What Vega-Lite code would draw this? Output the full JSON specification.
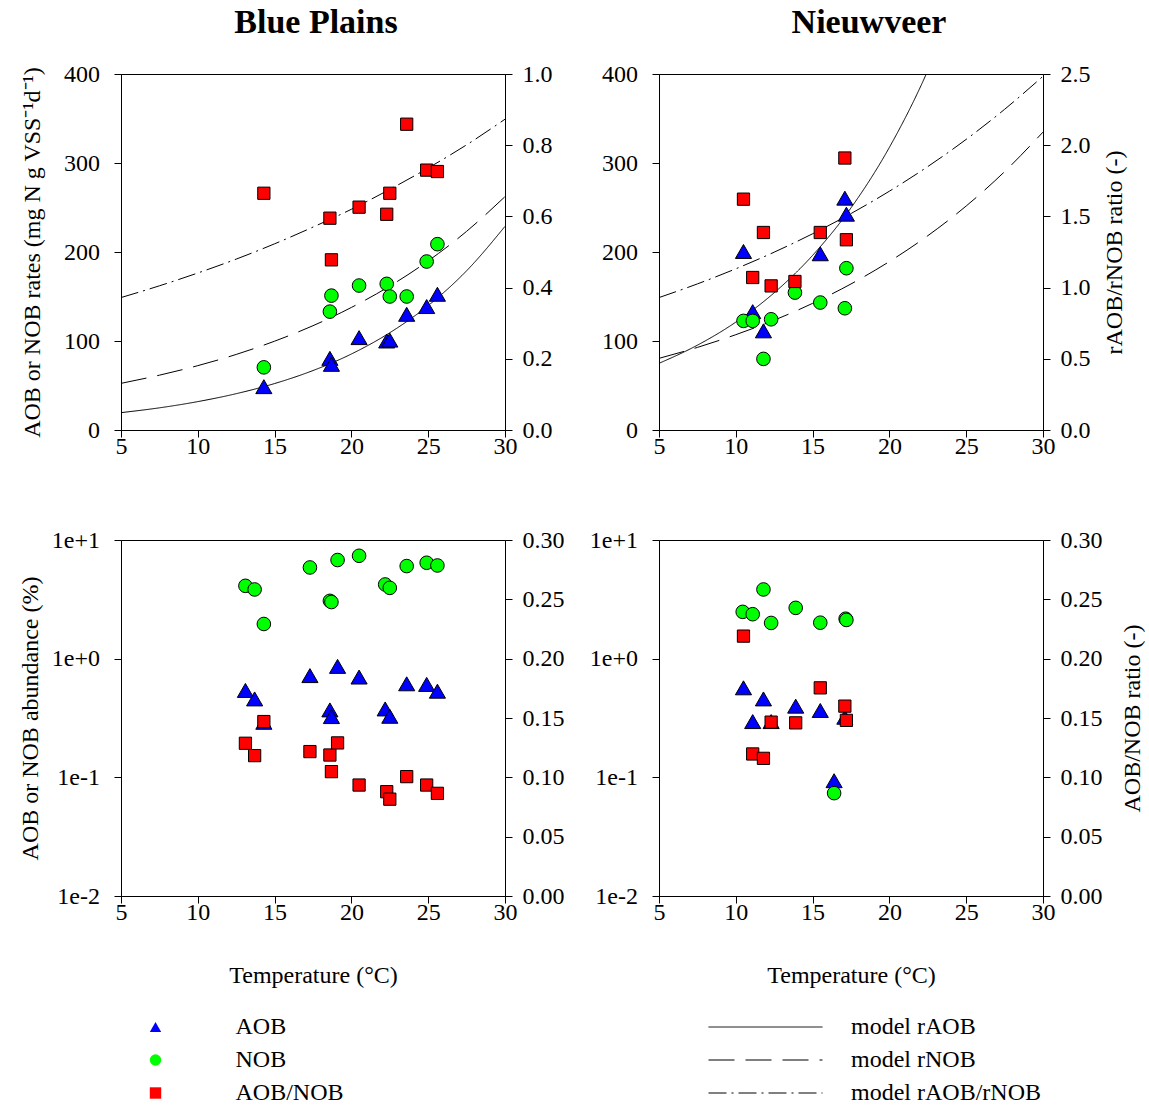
{
  "$schema": "https://vega.github.io/schema/vega-lite/v6.json",
  "background": "white",
  "padding": {"left": 18, "top": 5, "right": 0, "bottom": 0},
  "config": {
    "font": "Liberation Serif",
    "view": {"stroke": "black", "strokeWidth": 1},
    "axis": {
      "domainColor": "black", "tickColor": "black", "labelColor": "black", "titleColor": "black",
      "labelFont": "Liberation Serif", "titleFont": "Liberation Serif", "labelFlush": false,
      "labelFontSize": 24, "titleFontSize": 24, "titleFontWeight": "normal",
      "tickSize": 7, "grid": false, "domainWidth": 1, "tickWidth": 1
    },
    "legend": {
      "labelFont": "Liberation Serif", "labelFontSize": 24, "labelColor": "black", "labelLimit": 400,
      "padding": 0, "rowPadding": 9, "symbolStrokeColor": "black", "symbolStrokeWidth": 1
    },
    "title": {"font": "Liberation Serif", "fontSize": 34, "fontWeight": "bold", "color": "black", "anchor": "middle", "baseline": "alphabetic", "offset": 22}
  },
  "datasets": {
    "pts": [
      {"p": "BP1", "T": 14.3, "v": 48.7, "s": "AOB"},
      {"p": "BP1", "T": 18.6, "v": 80.5, "s": "AOB"},
      {"p": "BP1", "T": 18.7, "v": 73.8, "s": "AOB"},
      {"p": "BP1", "T": 20.5, "v": 103.8, "s": "AOB"},
      {"p": "BP1", "T": 22.3, "v": 100, "s": "AOB"},
      {"p": "BP1", "T": 22.5, "v": 101, "s": "AOB"},
      {"p": "BP1", "T": 23.6, "v": 130, "s": "AOB"},
      {"p": "BP1", "T": 24.9, "v": 138.7, "s": "AOB"},
      {"p": "BP1", "T": 25.6, "v": 152.5, "s": "AOB"},
      {"p": "BP1", "T": 14.3, "v": 70.4, "s": "NOB"},
      {"p": "BP1", "T": 18.6, "v": 133, "s": "NOB"},
      {"p": "BP1", "T": 18.7, "v": 151, "s": "NOB"},
      {"p": "BP1", "T": 20.5, "v": 162.3, "s": "NOB"},
      {"p": "BP1", "T": 22.3, "v": 164.2, "s": "NOB"},
      {"p": "BP1", "T": 22.5, "v": 150, "s": "NOB"},
      {"p": "BP1", "T": 23.6, "v": 150, "s": "NOB"},
      {"p": "BP1", "T": 24.9, "v": 189.3, "s": "NOB"},
      {"p": "BP1", "T": 25.6, "v": 208.8, "s": "NOB"},
      {"p": "BP1", "T": 14.3, "v": 0.665, "s": "AOB/NOB"},
      {"p": "BP1", "T": 18.6, "v": 0.595, "s": "AOB/NOB"},
      {"p": "BP1", "T": 18.7, "v": 0.478, "s": "AOB/NOB"},
      {"p": "BP1", "T": 20.5, "v": 0.626, "s": "AOB/NOB"},
      {"p": "BP1", "T": 22.3, "v": 0.606, "s": "AOB/NOB"},
      {"p": "BP1", "T": 22.5, "v": 0.665, "s": "AOB/NOB"},
      {"p": "BP1", "T": 23.6, "v": 0.859, "s": "AOB/NOB"},
      {"p": "BP1", "T": 24.9, "v": 0.730, "s": "AOB/NOB"},
      {"p": "BP1", "T": 25.6, "v": 0.726, "s": "AOB/NOB"},
      {"p": "NW1", "T": 10.5, "v": 200.6, "s": "AOB"},
      {"p": "NW1", "T": 11.1, "v": 133, "s": "AOB"},
      {"p": "NW1", "T": 11.8, "v": 111.4, "s": "AOB"},
      {"p": "NW1", "T": 15.5, "v": 198, "s": "AOB"},
      {"p": "NW1", "T": 17.1, "v": 260.5, "s": "AOB"},
      {"p": "NW1", "T": 17.2, "v": 242.5, "s": "AOB"},
      {"p": "NW1", "T": 10.5, "v": 122.6, "s": "NOB"},
      {"p": "NW1", "T": 11.1, "v": 122.6, "s": "NOB"},
      {"p": "NW1", "T": 11.8, "v": 79.9, "s": "NOB"},
      {"p": "NW1", "T": 12.3, "v": 124.4, "s": "NOB"},
      {"p": "NW1", "T": 13.85, "v": 154.4, "s": "NOB"},
      {"p": "NW1", "T": 15.5, "v": 143.2, "s": "NOB"},
      {"p": "NW1", "T": 17.1, "v": 136.8, "s": "NOB"},
      {"p": "NW1", "T": 17.2, "v": 181.8, "s": "NOB"},
      {"p": "NW1", "T": 10.5, "v": 1.621, "s": "AOB/NOB"},
      {"p": "NW1", "T": 11.8, "v": 1.387, "s": "AOB/NOB"},
      {"p": "NW1", "T": 11.1, "v": 1.071, "s": "AOB/NOB"},
      {"p": "NW1", "T": 12.3, "v": 1.012, "s": "AOB/NOB"},
      {"p": "NW1", "T": 13.85, "v": 1.043, "s": "AOB/NOB"},
      {"p": "NW1", "T": 15.5, "v": 1.387, "s": "AOB/NOB"},
      {"p": "NW1", "T": 17.1, "v": 1.910, "s": "AOB/NOB"},
      {"p": "NW1", "T": 17.2, "v": 1.336, "s": "AOB/NOB"},
      {"p": "BP2", "T": 13.1, "v": 0.54, "s": "AOB"},
      {"p": "BP2", "T": 13.7, "v": 0.458, "s": "AOB"},
      {"p": "BP2", "T": 14.3, "v": 0.291, "s": "AOB"},
      {"p": "BP2", "T": 17.3, "v": 0.72, "s": "AOB"},
      {"p": "BP2", "T": 19.1, "v": 0.861, "s": "AOB"},
      {"p": "BP2", "T": 18.6, "v": 0.37, "s": "AOB"},
      {"p": "BP2", "T": 18.7, "v": 0.325, "s": "AOB"},
      {"p": "BP2", "T": 20.5, "v": 0.70, "s": "AOB"},
      {"p": "BP2", "T": 22.2, "v": 0.377, "s": "AOB"},
      {"p": "BP2", "T": 22.5, "v": 0.327, "s": "AOB"},
      {"p": "BP2", "T": 23.6, "v": 0.614, "s": "AOB"},
      {"p": "BP2", "T": 24.9, "v": 0.607, "s": "AOB"},
      {"p": "BP2", "T": 25.6, "v": 0.532, "s": "AOB"},
      {"p": "BP2", "T": 13.1, "v": 4.11, "s": "NOB"},
      {"p": "BP2", "T": 13.7, "v": 3.83, "s": "NOB"},
      {"p": "BP2", "T": 14.3, "v": 1.96, "s": "NOB"},
      {"p": "BP2", "T": 17.3, "v": 5.87, "s": "NOB"},
      {"p": "BP2", "T": 19.1, "v": 6.78, "s": "NOB"},
      {"p": "BP2", "T": 18.6, "v": 3.07, "s": "NOB"},
      {"p": "BP2", "T": 18.7, "v": 3.0, "s": "NOB"},
      {"p": "BP2", "T": 20.5, "v": 7.36, "s": "NOB"},
      {"p": "BP2", "T": 22.2, "v": 4.22, "s": "NOB"},
      {"p": "BP2", "T": 22.5, "v": 3.95, "s": "NOB"},
      {"p": "BP2", "T": 23.6, "v": 6.03, "s": "NOB"},
      {"p": "BP2", "T": 24.9, "v": 6.43, "s": "NOB"},
      {"p": "BP2", "T": 25.6, "v": 6.10, "s": "NOB"},
      {"p": "BP2", "T": 13.1, "v": 0.1287, "s": "AOB/NOB"},
      {"p": "BP2", "T": 13.7, "v": 0.1183, "s": "AOB/NOB"},
      {"p": "BP2", "T": 14.3, "v": 0.147, "s": "AOB/NOB"},
      {"p": "BP2", "T": 17.3, "v": 0.1217, "s": "AOB/NOB"},
      {"p": "BP2", "T": 18.6, "v": 0.1188, "s": "AOB/NOB"},
      {"p": "BP2", "T": 19.1, "v": 0.129, "s": "AOB/NOB"},
      {"p": "BP2", "T": 18.7, "v": 0.1048, "s": "AOB/NOB"},
      {"p": "BP2", "T": 20.5, "v": 0.0935, "s": "AOB/NOB"},
      {"p": "BP2", "T": 22.3, "v": 0.0879, "s": "AOB/NOB"},
      {"p": "BP2", "T": 22.5, "v": 0.0816, "s": "AOB/NOB"},
      {"p": "BP2", "T": 23.6, "v": 0.1006, "s": "AOB/NOB"},
      {"p": "BP2", "T": 24.9, "v": 0.0935, "s": "AOB/NOB"},
      {"p": "BP2", "T": 25.6, "v": 0.0865, "s": "AOB/NOB"},
      {"p": "NW2", "T": 10.5, "v": 0.568, "s": "AOB"},
      {"p": "NW2", "T": 11.8, "v": 0.458, "s": "AOB"},
      {"p": "NW2", "T": 11.1, "v": 0.295, "s": "AOB"},
      {"p": "NW2", "T": 12.3, "v": 0.295, "s": "AOB"},
      {"p": "NW2", "T": 13.9, "v": 0.398, "s": "AOB"},
      {"p": "NW2", "T": 15.5, "v": 0.366, "s": "AOB"},
      {"p": "NW2", "T": 16.4, "v": 0.0937, "s": "AOB"},
      {"p": "NW2", "T": 17.1, "v": 0.321, "s": "AOB"},
      {"p": "NW2", "T": 10.45, "v": 2.48, "s": "NOB"},
      {"p": "NW2", "T": 11.1, "v": 2.37, "s": "NOB"},
      {"p": "NW2", "T": 11.8, "v": 3.83, "s": "NOB"},
      {"p": "NW2", "T": 12.3, "v": 2.0, "s": "NOB"},
      {"p": "NW2", "T": 13.9, "v": 2.68, "s": "NOB"},
      {"p": "NW2", "T": 15.5, "v": 2.01, "s": "NOB"},
      {"p": "NW2", "T": 17.15, "v": 2.17, "s": "NOB"},
      {"p": "NW2", "T": 17.2, "v": 2.12, "s": "NOB"},
      {"p": "NW2", "T": 16.4, "v": 0.0736, "s": "NOB"},
      {"p": "NW2", "T": 10.5, "v": 0.219, "s": "AOB/NOB"},
      {"p": "NW2", "T": 11.1, "v": 0.1197, "s": "AOB/NOB"},
      {"p": "NW2", "T": 11.8, "v": 0.116, "s": "AOB/NOB"},
      {"p": "NW2", "T": 12.3, "v": 0.1465, "s": "AOB/NOB"},
      {"p": "NW2", "T": 13.9, "v": 0.1459, "s": "AOB/NOB"},
      {"p": "NW2", "T": 15.5, "v": 0.1754, "s": "AOB/NOB"},
      {"p": "NW2", "T": 17.1, "v": 0.16, "s": "AOB/NOB"},
      {"p": "NW2", "T": 17.2, "v": 0.148, "s": "AOB/NOB"}
    ],
    "curves": [
      {"p": "BP1", "T": 5, "v": 19.5, "m": "model rAOB"},
      {"p": "BP1", "T": 7.5, "v": 24.9, "m": "model rAOB"},
      {"p": "BP1", "T": 10, "v": 31.9, "m": "model rAOB"},
      {"p": "BP1", "T": 12.5, "v": 40.8, "m": "model rAOB"},
      {"p": "BP1", "T": 15, "v": 52.2, "m": "model rAOB"},
      {"p": "BP1", "T": 17.5, "v": 66.8, "m": "model rAOB"},
      {"p": "BP1", "T": 20, "v": 85.4, "m": "model rAOB"},
      {"p": "BP1", "T": 22.5, "v": 109.3, "m": "model rAOB"},
      {"p": "BP1", "T": 25, "v": 139.8, "m": "model rAOB"},
      {"p": "BP1", "T": 27.5, "v": 178.9, "m": "model rAOB"},
      {"p": "BP1", "T": 30, "v": 228.8, "m": "model rAOB"},
      {"p": "BP1", "T": 5, "v": 52.4, "m": "model rNOB"},
      {"p": "BP1", "T": 7.5, "v": 61.6, "m": "model rNOB"},
      {"p": "BP1", "T": 10, "v": 72.3, "m": "model rNOB"},
      {"p": "BP1", "T": 12.5, "v": 84.9, "m": "model rNOB"},
      {"p": "BP1", "T": 15, "v": 99.8, "m": "model rNOB"},
      {"p": "BP1", "T": 17.5, "v": 117.2, "m": "model rNOB"},
      {"p": "BP1", "T": 20, "v": 137.7, "m": "model rNOB"},
      {"p": "BP1", "T": 22.5, "v": 161.7, "m": "model rNOB"},
      {"p": "BP1", "T": 25, "v": 190.0, "m": "model rNOB"},
      {"p": "BP1", "T": 27.5, "v": 223.2, "m": "model rNOB"},
      {"p": "BP1", "T": 30, "v": 262.2, "m": "model rNOB"},
      {"p": "BP1", "T": 5, "v": 0.372, "m": "model rAOB/rNOB"},
      {"p": "BP1", "T": 7.5, "v": 0.405, "m": "model rAOB/rNOB"},
      {"p": "BP1", "T": 10, "v": 0.441, "m": "model rAOB/rNOB"},
      {"p": "BP1", "T": 12.5, "v": 0.480, "m": "model rAOB/rNOB"},
      {"p": "BP1", "T": 15, "v": 0.523, "m": "model rAOB/rNOB"},
      {"p": "BP1", "T": 17.5, "v": 0.570, "m": "model rAOB/rNOB"},
      {"p": "BP1", "T": 20, "v": 0.620, "m": "model rAOB/rNOB"},
      {"p": "BP1", "T": 22.5, "v": 0.676, "m": "model rAOB/rNOB"},
      {"p": "BP1", "T": 25, "v": 0.736, "m": "model rAOB/rNOB"},
      {"p": "BP1", "T": 27.5, "v": 0.801, "m": "model rAOB/rNOB"},
      {"p": "BP1", "T": 30, "v": 0.873, "m": "model rAOB/rNOB"},
      {"p": "NW1", "T": 5, "v": 74.9, "m": "model rAOB"},
      {"p": "NW1", "T": 7.5, "v": 95.3, "m": "model rAOB"},
      {"p": "NW1", "T": 10, "v": 121.2, "m": "model rAOB"},
      {"p": "NW1", "T": 12.5, "v": 154.2, "m": "model rAOB"},
      {"p": "NW1", "T": 15, "v": 196.2, "m": "model rAOB"},
      {"p": "NW1", "T": 17.5, "v": 249.6, "m": "model rAOB"},
      {"p": "NW1", "T": 20, "v": 317.6, "m": "model rAOB"},
      {"p": "NW1", "T": 22.5, "v": 403.9, "m": "model rAOB"},
      {"p": "NW1", "T": 25, "v": 514, "m": "model rAOB"},
      {"p": "NW1", "T": 5, "v": 80.5, "m": "model rNOB"},
      {"p": "NW1", "T": 7.5, "v": 92.8, "m": "model rNOB"},
      {"p": "NW1", "T": 10, "v": 107.1, "m": "model rNOB"},
      {"p": "NW1", "T": 12.5, "v": 123.4, "m": "model rNOB"},
      {"p": "NW1", "T": 15, "v": 142.3, "m": "model rNOB"},
      {"p": "NW1", "T": 17.5, "v": 164.1, "m": "model rNOB"},
      {"p": "NW1", "T": 20, "v": 189.3, "m": "model rNOB"},
      {"p": "NW1", "T": 22.5, "v": 218.3, "m": "model rNOB"},
      {"p": "NW1", "T": 25, "v": 251.7, "m": "model rNOB"},
      {"p": "NW1", "T": 27.5, "v": 290.3, "m": "model rNOB"},
      {"p": "NW1", "T": 30, "v": 334.7, "m": "model rNOB"},
      {"p": "NW1", "T": 5, "v": 0.930, "m": "model rAOB/rNOB"},
      {"p": "NW1", "T": 7.5, "v": 1.026, "m": "model rAOB/rNOB"},
      {"p": "NW1", "T": 10, "v": 1.132, "m": "model rAOB/rNOB"},
      {"p": "NW1", "T": 12.5, "v": 1.249, "m": "model rAOB/rNOB"},
      {"p": "NW1", "T": 15, "v": 1.378, "m": "model rAOB/rNOB"},
      {"p": "NW1", "T": 17.5, "v": 1.520, "m": "model rAOB/rNOB"},
      {"p": "NW1", "T": 20, "v": 1.677, "m": "model rAOB/rNOB"},
      {"p": "NW1", "T": 22.5, "v": 1.850, "m": "model rAOB/rNOB"},
      {"p": "NW1", "T": 25, "v": 2.041, "m": "model rAOB/rNOB"},
      {"p": "NW1", "T": 27.5, "v": 2.252, "m": "model rAOB/rNOB"},
      {"p": "NW1", "T": 30, "v": 2.484, "m": "model rAOB/rNOB"}
    ]
  },
  "concat": [
    {
      "title": {"text": "Blue Plains", "dx": 3},
      "width": 384, "height": 356,
      "encoding": {"x": {"field": "T", "type": "quantitative", "scale": {"domain": [5, 30], "nice": false}, "axis": {"values": [5, 10, 15, 20, 25, 30], "title": null, "labelPadding": -3}}},
      "layer": [
        {
          "data": {"name": "curves"},
          "transform": [{"filter": "datum.p == 'BP1' && datum.m != 'model rAOB/rNOB'"}],
          "mark": {"type": "line", "clip": true, "interpolate": "monotone", "color": "black", "strokeWidth": 1},
          "encoding": {
            "y": {"field": "v", "type": "quantitative", "scale": {"domain": [0, 400], "nice": false}, "axis": {"values": [0, 100, 200, 300, 400], "title": "AOB or NOB rates (mg N g VSS⁻¹d⁻¹)", "labelPadding": 14.5, "titlePadding": 19.5}},
            "strokeDash": {"field": "m", "type": "nominal", "scale": {"domain": ["model rAOB", "model rNOB", "model rAOB/rNOB"], "range": [[1, 0], [26, 11], [18, 5, 2, 5]]}, "legend": {"orient": "none", "legendX": 587, "legendY": 941, "title": null, "symbolSize": 12996, "labelOffset": 28, "clipHeight": 24, "labelLimit": 400, "symbolType": "stroke", "symbolStrokeWidth": 1, "symbolStrokeColor": "black"}}
          }
        },
        {
          "data": {"name": "curves"},
          "transform": [{"filter": "datum.p == 'BP1' && datum.m == 'model rAOB/rNOB'"}],
          "mark": {"type": "line", "clip": true, "interpolate": "monotone", "color": "black", "strokeWidth": 1},
          "encoding": {
            "y": {"field": "v", "type": "quantitative", "scale": {"domain": [0, 1], "nice": false}, "axis": {"orient": "right", "values": [0, 0.2, 0.4, 0.6, 0.8, 1.0], "format": ".1f", "title": null, "labelPadding": 10}},
            "strokeDash": {"field": "m", "type": "nominal", "scale": {"domain": ["model rAOB", "model rNOB", "model rAOB/rNOB"], "range": [[1, 0], [26, 11], [18, 5, 2, 5]]}, "legend": {"orient": "none", "legendX": 587, "legendY": 941, "title": null, "symbolSize": 12996, "labelOffset": 28, "clipHeight": 24, "labelLimit": 400, "symbolType": "stroke", "symbolStrokeWidth": 1, "symbolStrokeColor": "black"}}
          }
        },
        {
          "data": {"name": "pts"},
          "transform": [{"filter": "datum.p == 'BP1' && datum.s == 'AOB'"}],
          "mark": {"type": "point", "filled": true, "size": 260, "stroke": "black", "strokeWidth": 1, "opacity": 1},
          "encoding": {
            "y": {"field": "v", "type": "quantitative", "scale": {"domain": [0, 400], "nice": false}, "axis": null},
            "shape": {"field": "s", "type": "nominal", "scale": {"domain": ["AOB", "NOB", "AOB/NOB"], "range": ["triangle-up", "circle", "square"]}, "legend": {"orient": "none", "legendX": 22.5, "legendY": 941, "title": null, "symbolSize": 130, "labelOffset": 68}},
            "fill": {"field": "s", "type": "nominal", "scale": {"domain": ["AOB", "NOB", "AOB/NOB"], "range": ["#0000FF", "#00FF00", "#FF0000"]}, "legend": {"orient": "none", "legendX": 22.5, "legendY": 941, "title": null, "symbolSize": 130, "labelOffset": 68}}
          }
        },
        {
          "data": {"name": "pts"},
          "transform": [{"filter": "datum.p == 'BP1' && datum.s == 'NOB'"}],
          "mark": {"type": "point", "filled": true, "size": 185, "stroke": "black", "strokeWidth": 1, "opacity": 1},
          "encoding": {
            "y": {"field": "v", "type": "quantitative", "scale": {"domain": [0, 400], "nice": false}, "axis": null},
            "shape": {"field": "s", "type": "nominal", "scale": {"domain": ["AOB", "NOB", "AOB/NOB"], "range": ["triangle-up", "circle", "square"]}, "legend": {"orient": "none", "legendX": 22.5, "legendY": 941, "title": null, "symbolSize": 130, "labelOffset": 68}},
            "fill": {"field": "s", "type": "nominal", "scale": {"domain": ["AOB", "NOB", "AOB/NOB"], "range": ["#0000FF", "#00FF00", "#FF0000"]}, "legend": {"orient": "none", "legendX": 22.5, "legendY": 941, "title": null, "symbolSize": 130, "labelOffset": 68}}
          }
        },
        {
          "data": {"name": "pts"},
          "transform": [{"filter": "datum.p == 'BP1' && datum.s == 'AOB/NOB'"}],
          "mark": {"type": "point", "filled": true, "size": 150, "stroke": "black", "strokeWidth": 1, "opacity": 1},
          "encoding": {
            "y": {"field": "v", "type": "quantitative", "scale": {"domain": [0, 1], "nice": false}, "axis": null},
            "shape": {"field": "s", "type": "nominal", "scale": {"domain": ["AOB", "NOB", "AOB/NOB"], "range": ["triangle-up", "circle", "square"]}, "legend": {"orient": "none", "legendX": 22.5, "legendY": 941, "title": null, "symbolSize": 130, "labelOffset": 68}},
            "fill": {"field": "s", "type": "nominal", "scale": {"domain": ["AOB", "NOB", "AOB/NOB"], "range": ["#0000FF", "#00FF00", "#FF0000"]}, "legend": {"orient": "none", "legendX": 22.5, "legendY": 941, "title": null, "symbolSize": 130, "labelOffset": 68}}
          }
        }
      ],
      "resolve": {"scale": {"y": "independent"}}
    },
    {
      "title": {"text": "Nieuwveer", "dx": 18},
      "width": 384, "height": 356,
      "encoding": {"x": {"field": "T", "type": "quantitative", "scale": {"domain": [5, 30], "nice": false}, "axis": {"values": [5, 10, 15, 20, 25, 30], "title": null, "labelPadding": -3}}},
      "layer": [
        {
          "data": {"name": "curves"},
          "transform": [{"filter": "datum.p == 'NW1' && datum.m != 'model rAOB/rNOB'"}],
          "mark": {"type": "line", "clip": true, "interpolate": "monotone", "color": "black", "strokeWidth": 1},
          "encoding": {
            "y": {"field": "v", "type": "quantitative", "scale": {"domain": [0, 400], "nice": false}, "axis": {"values": [0, 100, 200, 300, 400], "title": null, "labelPadding": 14.5}},
            "strokeDash": {"field": "m", "type": "nominal", "scale": {"domain": ["model rAOB", "model rNOB", "model rAOB/rNOB"], "range": [[1, 0], [26, 11], [18, 5, 2, 5]]}, "legend": {"orient": "none", "legendX": 587, "legendY": 941, "title": null, "symbolSize": 12996, "labelOffset": 28, "clipHeight": 24, "labelLimit": 400, "symbolType": "stroke", "symbolStrokeWidth": 1, "symbolStrokeColor": "black"}}
          }
        },
        {
          "data": {"name": "curves"},
          "transform": [{"filter": "datum.p == 'NW1' && datum.m == 'model rAOB/rNOB'"}],
          "mark": {"type": "line", "clip": true, "interpolate": "monotone", "color": "black", "strokeWidth": 1},
          "encoding": {
            "y": {"field": "v", "type": "quantitative", "scale": {"domain": [0, 2.5], "nice": false}, "axis": {"orient": "right", "values": [0, 0.5, 1.0, 1.5, 2.0, 2.5], "format": ".1f", "title": "rAOB/rNOB ratio (-)", "titleAngle": 270, "titleBaseline": "top", "labelPadding": 10, "titlePadding": 12}},
            "strokeDash": {"field": "m", "type": "nominal", "scale": {"domain": ["model rAOB", "model rNOB", "model rAOB/rNOB"], "range": [[1, 0], [26, 11], [18, 5, 2, 5]]}, "legend": {"orient": "none", "legendX": 587, "legendY": 941, "title": null, "symbolSize": 12996, "labelOffset": 28, "clipHeight": 24, "labelLimit": 400, "symbolType": "stroke", "symbolStrokeWidth": 1, "symbolStrokeColor": "black"}}
          }
        },
        {
          "data": {"name": "pts"},
          "transform": [{"filter": "datum.p == 'NW1' && datum.s == 'AOB'"}],
          "mark": {"type": "point", "filled": true, "size": 260, "stroke": "black", "strokeWidth": 1, "opacity": 1},
          "encoding": {
            "y": {"field": "v", "type": "quantitative", "scale": {"domain": [0, 400], "nice": false}, "axis": null},
            "shape": {"field": "s", "type": "nominal", "scale": {"domain": ["AOB", "NOB", "AOB/NOB"], "range": ["triangle-up", "circle", "square"]}, "legend": {"orient": "none", "legendX": 22.5, "legendY": 941, "title": null, "symbolSize": 130, "labelOffset": 68}},
            "fill": {"field": "s", "type": "nominal", "scale": {"domain": ["AOB", "NOB", "AOB/NOB"], "range": ["#0000FF", "#00FF00", "#FF0000"]}, "legend": {"orient": "none", "legendX": 22.5, "legendY": 941, "title": null, "symbolSize": 130, "labelOffset": 68}}
          }
        },
        {
          "data": {"name": "pts"},
          "transform": [{"filter": "datum.p == 'NW1' && datum.s == 'NOB'"}],
          "mark": {"type": "point", "filled": true, "size": 185, "stroke": "black", "strokeWidth": 1, "opacity": 1},
          "encoding": {
            "y": {"field": "v", "type": "quantitative", "scale": {"domain": [0, 400], "nice": false}, "axis": null},
            "shape": {"field": "s", "type": "nominal", "scale": {"domain": ["AOB", "NOB", "AOB/NOB"], "range": ["triangle-up", "circle", "square"]}, "legend": {"orient": "none", "legendX": 22.5, "legendY": 941, "title": null, "symbolSize": 130, "labelOffset": 68}},
            "fill": {"field": "s", "type": "nominal", "scale": {"domain": ["AOB", "NOB", "AOB/NOB"], "range": ["#0000FF", "#00FF00", "#FF0000"]}, "legend": {"orient": "none", "legendX": 22.5, "legendY": 941, "title": null, "symbolSize": 130, "labelOffset": 68}}
          }
        },
        {
          "data": {"name": "pts"},
          "transform": [{"filter": "datum.p == 'NW1' && datum.s == 'AOB/NOB'"}],
          "mark": {"type": "point", "filled": true, "size": 150, "stroke": "black", "strokeWidth": 1, "opacity": 1},
          "encoding": {
            "y": {"field": "v", "type": "quantitative", "scale": {"domain": [0, 2.5], "nice": false}, "axis": null},
            "shape": {"field": "s", "type": "nominal", "scale": {"domain": ["AOB", "NOB", "AOB/NOB"], "range": ["triangle-up", "circle", "square"]}, "legend": {"orient": "none", "legendX": 22.5, "legendY": 941, "title": null, "symbolSize": 130, "labelOffset": 68}},
            "fill": {"field": "s", "type": "nominal", "scale": {"domain": ["AOB", "NOB", "AOB/NOB"], "range": ["#0000FF", "#00FF00", "#FF0000"]}, "legend": {"orient": "none", "legendX": 22.5, "legendY": 941, "title": null, "symbolSize": 130, "labelOffset": 68}}
          }
        }
      ],
      "resolve": {"scale": {"y": "independent"}}
    },
    {
      "width": 384, "height": 356,
      "encoding": {"x": {"field": "T", "type": "quantitative", "scale": {"domain": [5, 30], "nice": false}, "axis": {"values": [5, 10, 15, 20, 25, 30], "title": "Temperature (°C)", "labelPadding": -3, "titlePadding": 39.5}}},
      "layer": [
        {
          "data": {"name": "pts"},
          "transform": [{"filter": "datum.p == 'BP2' && datum.s == 'AOB'"}],
          "mark": {"type": "point", "filled": true, "size": 260, "stroke": "black", "strokeWidth": 1, "opacity": 1},
          "encoding": {
            "y": {"field": "v", "type": "quantitative", "scale": {"type": "log", "domain": [0.01, 10], "nice": false}, "axis": {"values": [0.01, 0.1, 1, 10], "labelExpr": "datum.value >= 5 ? '1e+1' : datum.value >= 0.5 ? '1e+0' : datum.value >= 0.05 ? '1e-1' : '1e-2'", "title": "AOB or NOB abundance (%)", "labelPadding": 14.5, "titlePadding": 8.5}},
            "shape": {"field": "s", "type": "nominal", "scale": {"domain": ["AOB", "NOB", "AOB/NOB"], "range": ["triangle-up", "circle", "square"]}, "legend": {"orient": "none", "legendX": 22.5, "legendY": 941, "title": null, "symbolSize": 130, "labelOffset": 68}},
            "fill": {"field": "s", "type": "nominal", "scale": {"domain": ["AOB", "NOB", "AOB/NOB"], "range": ["#0000FF", "#00FF00", "#FF0000"]}, "legend": {"orient": "none", "legendX": 22.5, "legendY": 941, "title": null, "symbolSize": 130, "labelOffset": 68}}
          }
        },
        {
          "data": {"name": "pts"},
          "transform": [{"filter": "datum.p == 'BP2' && datum.s == 'NOB'"}],
          "mark": {"type": "point", "filled": true, "size": 185, "stroke": "black", "strokeWidth": 1, "opacity": 1},
          "encoding": {
            "y": {"field": "v", "type": "quantitative", "scale": {"type": "log", "domain": [0.01, 10], "nice": false}, "axis": null},
            "shape": {"field": "s", "type": "nominal", "scale": {"domain": ["AOB", "NOB", "AOB/NOB"], "range": ["triangle-up", "circle", "square"]}, "legend": {"orient": "none", "legendX": 22.5, "legendY": 941, "title": null, "symbolSize": 130, "labelOffset": 68}},
            "fill": {"field": "s", "type": "nominal", "scale": {"domain": ["AOB", "NOB", "AOB/NOB"], "range": ["#0000FF", "#00FF00", "#FF0000"]}, "legend": {"orient": "none", "legendX": 22.5, "legendY": 941, "title": null, "symbolSize": 130, "labelOffset": 68}}
          }
        },
        {
          "data": {"name": "pts"},
          "transform": [{"filter": "datum.p == 'BP2' && datum.s == 'AOB/NOB'"}],
          "mark": {"type": "point", "filled": true, "size": 150, "stroke": "black", "strokeWidth": 1, "opacity": 1},
          "encoding": {
            "y": {"field": "v", "type": "quantitative", "scale": {"domain": [0, 0.3], "nice": false}, "axis": {"orient": "right", "values": [0, 0.05, 0.1, 0.15, 0.2, 0.25, 0.3], "format": ".2f", "title": null, "labelPadding": 10}},
            "shape": {"field": "s", "type": "nominal", "scale": {"domain": ["AOB", "NOB", "AOB/NOB"], "range": ["triangle-up", "circle", "square"]}, "legend": {"orient": "none", "legendX": 22.5, "legendY": 941, "title": null, "symbolSize": 130, "labelOffset": 68}},
            "fill": {"field": "s", "type": "nominal", "scale": {"domain": ["AOB", "NOB", "AOB/NOB"], "range": ["#0000FF", "#00FF00", "#FF0000"]}, "legend": {"orient": "none", "legendX": 22.5, "legendY": 941, "title": null, "symbolSize": 130, "labelOffset": 68}}
          }
        }
      ],
      "resolve": {"scale": {"y": "independent"}}
    },
    {
      "width": 384, "height": 356,
      "encoding": {"x": {"field": "T", "type": "quantitative", "scale": {"domain": [5, 30], "nice": false}, "axis": {"values": [5, 10, 15, 20, 25, 30], "title": "Temperature (°C)", "labelPadding": -3, "titlePadding": 39.5}}},
      "layer": [
        {
          "data": {"name": "pts"},
          "transform": [{"filter": "datum.p == 'NW2' && datum.s == 'AOB'"}],
          "mark": {"type": "point", "filled": true, "size": 260, "stroke": "black", "strokeWidth": 1, "opacity": 1},
          "encoding": {
            "y": {"field": "v", "type": "quantitative", "scale": {"type": "log", "domain": [0.01, 10], "nice": false}, "axis": {"values": [0.01, 0.1, 1, 10], "labelExpr": "datum.value >= 5 ? '1e+1' : datum.value >= 0.5 ? '1e+0' : datum.value >= 0.05 ? '1e-1' : '1e-2'", "title": null, "labelPadding": 14.5}},
            "shape": {"field": "s", "type": "nominal", "scale": {"domain": ["AOB", "NOB", "AOB/NOB"], "range": ["triangle-up", "circle", "square"]}, "legend": {"orient": "none", "legendX": 22.5, "legendY": 941, "title": null, "symbolSize": 130, "labelOffset": 68}},
            "fill": {"field": "s", "type": "nominal", "scale": {"domain": ["AOB", "NOB", "AOB/NOB"], "range": ["#0000FF", "#00FF00", "#FF0000"]}, "legend": {"orient": "none", "legendX": 22.5, "legendY": 941, "title": null, "symbolSize": 130, "labelOffset": 68}}
          }
        },
        {
          "data": {"name": "pts"},
          "transform": [{"filter": "datum.p == 'NW2' && datum.s == 'NOB'"}],
          "mark": {"type": "point", "filled": true, "size": 185, "stroke": "black", "strokeWidth": 1, "opacity": 1},
          "encoding": {
            "y": {"field": "v", "type": "quantitative", "scale": {"type": "log", "domain": [0.01, 10], "nice": false}, "axis": null},
            "shape": {"field": "s", "type": "nominal", "scale": {"domain": ["AOB", "NOB", "AOB/NOB"], "range": ["triangle-up", "circle", "square"]}, "legend": {"orient": "none", "legendX": 22.5, "legendY": 941, "title": null, "symbolSize": 130, "labelOffset": 68}},
            "fill": {"field": "s", "type": "nominal", "scale": {"domain": ["AOB", "NOB", "AOB/NOB"], "range": ["#0000FF", "#00FF00", "#FF0000"]}, "legend": {"orient": "none", "legendX": 22.5, "legendY": 941, "title": null, "symbolSize": 130, "labelOffset": 68}}
          }
        },
        {
          "data": {"name": "pts"},
          "transform": [{"filter": "datum.p == 'NW2' && datum.s == 'AOB/NOB'"}],
          "mark": {"type": "point", "filled": true, "size": 150, "stroke": "black", "strokeWidth": 1, "opacity": 1},
          "encoding": {
            "y": {"field": "v", "type": "quantitative", "scale": {"domain": [0, 0.3], "nice": false}, "axis": {"orient": "right", "values": [0, 0.05, 0.1, 0.15, 0.2, 0.25, 0.3], "format": ".2f", "title": "AOB/NOB ratio (-)", "titleAngle": 270, "titleBaseline": "top", "labelPadding": 10, "titlePadding": 18}},
            "shape": {"field": "s", "type": "nominal", "scale": {"domain": ["AOB", "NOB", "AOB/NOB"], "range": ["triangle-up", "circle", "square"]}, "legend": {"orient": "none", "legendX": 22.5, "legendY": 941, "title": null, "symbolSize": 130, "labelOffset": 68}},
            "fill": {"field": "s", "type": "nominal", "scale": {"domain": ["AOB", "NOB", "AOB/NOB"], "range": ["#0000FF", "#00FF00", "#FF0000"]}, "legend": {"orient": "none", "legendX": 22.5, "legendY": 941, "title": null, "symbolSize": 130, "labelOffset": 68}}
          }
        }
      ],
      "resolve": {"scale": {"y": "independent"}}
    }
  ],
  "columns": 2,
  "spacing": {"row": 110, "column": 154},
  "bounds": "flush"
}
